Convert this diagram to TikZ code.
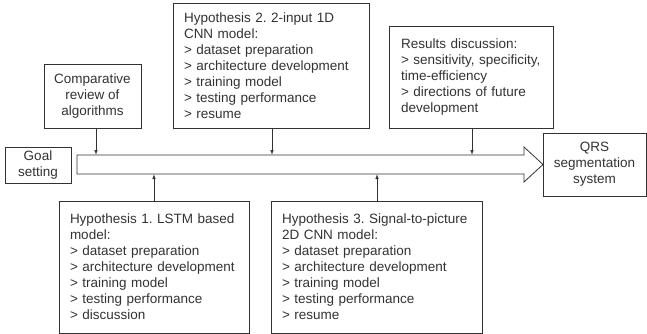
\documentclass[tikz,border=0pt]{standalone}
\usepackage{fontspec}
\setmainfont{Liberation Sans}
\usetikzlibrary{arrows.meta}
\definecolor{ink}{RGB}{50,50,50}
\frenchspacing
\hyphenpenalty=10000
\begin{document}
\begin{tikzpicture}[x=1pt,y=-1pt,
  box/.style={draw=ink, line width=0.8pt, text=ink, font=\fontsize{13.5}{16}\selectfont, inner sep=0pt, rectangle},
  lbox/.style={box, align=left},
  cbox/.style={box, align=center},
  conn/.style={draw=ink, line width=0.8pt, -{Latex[length=5pt,width=3.5pt]}}]
\useasboundingbox (0,0) rectangle (647,334);

% big arrow
\draw[ink, line width=0.8pt, line join=miter] (77,155) -- (524,155) -- (524,147) -- (543,164.5) -- (524,182) -- (524,174) -- (77,174) -- cycle;

\node[cbox, minimum width=66pt, minimum height=36pt] (goal) at (38,165) {Goal\\setting};
\node[cbox, minimum width=103pt, minimum height=63pt] (qrs) at (594.5,164.5) {QRS\\segmentation\\system};
\node[cbox, minimum width=97pt, minimum height=64pt] (comp) at (92.5,96) {Comparative\\review of\\algorithms};
\node[lbox, minimum width=196pt, minimum height=125pt, text width=174pt] (hyp2) at (271,65.5)
  {Hypothesis 2. 2-input 1D\\CNN model:\\> dataset preparation\\> architecture development\\> training model\\> testing performance\\> resume};
\node[lbox, minimum width=164pt, minimum height=102pt, text width=140pt] (res) at (471,77)
  {Results discussion:\\\mbox{> sensitivity, specificity,}\\time-efficiency\\> directions of future\\development};
\node[lbox, minimum width=190pt, minimum height=132pt, text width=168pt] (hyp1) at (154,267)
  {Hypothesis 1. LSTM based\\model:\\> dataset preparation\\> architecture development\\> training model\\> testing performance\\> discussion};
\node[lbox, minimum width=211pt, minimum height=132pt, text width=189pt] (hyp3) at (376.5,267)
  {Hypothesis 3. Signal-to-picture\\2D CNN model:\\> dataset preparation\\> architecture development\\> training model\\> testing performance\\> resume};

\coordinate (a1) at (96,155);
\coordinate (a2) at (272,155);
\coordinate (a3) at (472,155);
\coordinate (b1) at (154,174);
\coordinate (b2) at (377,174);

\draw[conn] (a1 |- comp.south) -- (a1);
\draw[conn] (a2 |- hyp2.south) -- (a2);
\draw[conn] (a3 |- res.south) -- (a3);
\draw[conn] (b1 |- hyp1.north) -- (b1);
\draw[conn] (b2 |- hyp3.north) -- (b2);
\end{tikzpicture}
\end{document}
